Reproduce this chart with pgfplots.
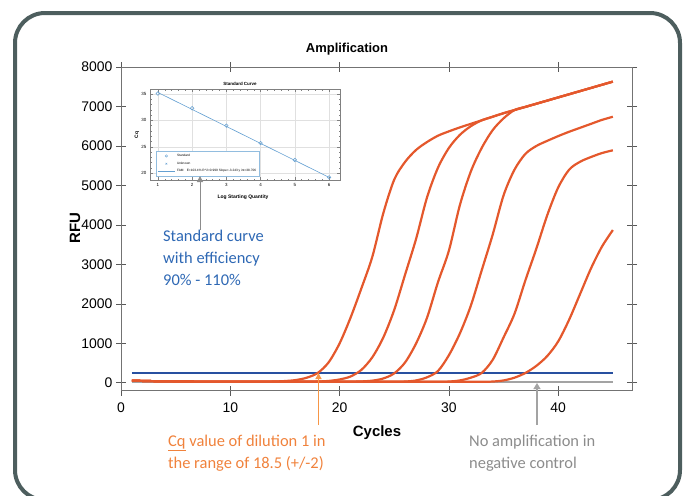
\documentclass[border=0pt]{standalone}
\usepackage{pgfplots}
\usepackage{pgfplotstable}
\pgfplotsset{compat=1.18}
\usepackage{fontspec}
\setmainfont{Liberation Sans}
\newfontfamily\calibri{Carlito}
\usetikzlibrary{arrows.meta}

\definecolor{curve}{RGB}{228,88,44}
\definecolor{thresh}{RGB}{40,80,160}
\definecolor{bluetext}{RGB}{46,104,180}
\definecolor{orangetext}{RGB}{240,130,60}
\definecolor{orangearrow}{RGB}{247,150,70}
\definecolor{graytext}{RGB}{140,140,140}
\definecolor{framecol}{RGB}{77,94,94}
\definecolor{inscol}{RGB}{100,160,210}

% cycle, six dilutions, negative control (RFU)
\pgfplotstableread{
c  s1   s2   s3   s4   s5   s6   nc
1  55   55   55   55   55   55   20
2  48   48   48   48   48   48   20
3  42   42   42   42   42   42   20
4  38   38   38   38   38   38   20
5  35   35   35   35   35   35   20
6  32   32   32   32   32   32   20
7  30   30   30   30   30   30   20
8  28   28   28   28   28   28   20
9  27   27   27   27   27   27   20
10 26   26   26   26   26   26   20
11 25   25   25   25   25   25   20
12 25   25   25   25   25   25   20
13 27   25   25   25   25   25   20
14 32   25   25   25   25   25   20
15 45   25   25   25   25   25   20
16 70   25   25   25   25   25   20
17 130  27   25   25   25   25   20
18 250  32   25   25   25   25   20
19 520  48   25   25   25   25   20
20 1000 85   26   25   25   25   20
21 1650 160  28   25   25   25   20
22 2400 330  35   25   25   25   20
23 3200 650  55   25   25   25   20
24 4300 1150 110  25   25   25   20
25 5150 1850 240  26   25   25   20
26 5600 2750 520  32   25   25   20
27 5900 3650 1000 60   25   25   20
28 6100 4700 1650 140  25   25   20
29 6260 5450 2550 300  26   25   20
30 6370 5950 3350 700  32   25   20
31 6470 6280 4500 1250 60   25   20
32 6560 6500 5350 1950 130  25   20
33 6650 6650 5950 2850 250  26   20
34 6740 6740 6400 3750 580  32   20
35 6830 6830 6700 4750 1150 60   20
36 6910 6910 6910 5400 1750 130  20
37 6990 6990 6990 5800 2600 250  20
38 7070 7070 7070 6000 3400 430  20
39 7150 7150 7150 6130 4250 680  20
40 7230 7230 7230 6250 4950 1050 20
41 7310 7310 7310 6360 5400 1600 20
42 7390 7390 7390 6460 5600 2250 20
43 7470 7470 7470 6560 5720 2900 20
44 7550 7550 7550 6660 5820 3450 20
45 7630 7630 7630 6740 5890 3870 20
}\amp

\begin{document}
\begin{tikzpicture}
\path[use as bounding box] (0,0) rectangle (688bp,-496bp);
\begin{scope}
\clip (0,0) rectangle (688bp,-496bp);
\draw[framecol, line width=4bp, rounded corners=30bp] (15bp,-13bp) rectangle (680bp,-500bp);
\end{scope}

\begin{axis}[
  at={(121bp,-390.7bp)}, anchor=south west,
  scale only axis, width=511bp, height=323.7bp,
  xmin=0, xmax=46.75, ymin=-200, ymax=8000,
  xtick={0,10,20,30,40}, ytick={0,1000,...,8000},
  tick align=center, major tick length=10bp,
  axis line style={black!55, line width=0.8bp},
  tick style={black!65, line width=0.7bp},
  ticklabel style={font=\fontsize{14}{16}\selectfont},
  xticklabel style={yshift=-4bp},
  /pgf/number format/assume math mode=true,
  /pgf/number format/1000 sep={},
  scaled y ticks=false,
  clip=false,
]
\addplot[graytext!80, line width=1.5bp] table[x=c, y=nc] {\amp};
\addplot[thresh, line width=1.6bp] coordinates {(1,250) (45,250)};
\addplot[curve, line width=2.2bp, smooth] table[x=c, y=s6] {\amp};
\addplot[curve, line width=2.2bp, smooth] table[x=c, y=s5] {\amp};
\addplot[curve, line width=2.2bp, smooth] table[x=c, y=s4] {\amp};
\addplot[curve, line width=2.2bp, smooth] table[x=c, y=s3] {\amp};
\addplot[curve, line width=2.2bp, smooth] table[x=c, y=s2] {\amp};
\addplot[curve, line width=2.2bp, smooth] table[x=c, y=s1] {\amp};
\end{axis}

\node[font=\fontsize{13}{15}\selectfont\bfseries] at (347bp,-49bp) {Amplification};
\node[font=\fontsize{15}{17}\selectfont\bfseries] at (377bp,-433bp) {Cycles};
\node[font=\fontsize{15}{17}\selectfont\bfseries, rotate=90] at (75bp,-228bp) {RFU};

\begin{axis}[
  at={(150bp,-180bp)}, anchor=south west,
  scale only axis, width=190bp, height=91bp,
  xmin=0.77, xmax=6.32, ymin=18.7, ymax=35.95,
  xtick={1,...,6}, ytick={20,25,30,35},
  minor x tick num=4, minor y tick num=4,
  major tick length=3bp, minor tick length=1.5bp,
  grid=major, grid style={black!12, line width=0.4bp},
  axis line style={black!50, line width=0.5bp},
  tick style={black!50, line width=0.4bp},
  ticklabel style={font=\fontsize{4.5}{5}\selectfont},
  /pgf/number format/assume math mode=true,
  legend style={at={(axis cs:0.95,19.3)}, anchor=south west, font=\fontsize{3.2}{3.8}\selectfont,
    draw=inscol!70, line width=0.4bp, inner sep=1.2bp, row sep=0bp},
  legend cell align=left,
]
\addlegendimage{only marks, mark=o, mark size=1.2bp, inscol}
\addlegendentry{Standard}
\addlegendimage{only marks, mark=x, mark size=1.2bp, inscol}
\addlegendentry{Unknown}
\addlegendimage{inscol, line width=0.5bp}
\addlegendentry{FAM\quad E=103.4\% R\textasciicircum 2=0.999 Slope=-3.243 y int=38.706}
\addplot[inscol, line width=0.6bp, forget plot] coordinates {(1,35.3) (6,19.2)};
\addplot[only marks, mark=o, mark size=1.8bp, inscol, mark options={line width=0.5bp}, forget plot]
  coordinates {(1,35.1) (2,32.3) (3,29.0) (4,25.7) (5,22.5) (6,19.2)};
\end{axis}

\node[font=\fontsize{4.5}{5}\selectfont\bfseries] at (240bp,-84bp) {Standard Curve};
\node[font=\fontsize{5}{6}\selectfont\bfseries] at (243bp,-197bp) {Log Starting Quantity};
\node[font=\fontsize{5}{6}\selectfont\bfseries, rotate=90] at (137bp,-135bp) {Cq};

% annotation arrows
\draw[graytext, line width=1bp, -{Triangle[width=6bp,length=6bp]}] (200bp,-230bp) -- (200bp,-176bp);
\draw[orangearrow, line width=1.2bp, -{Triangle[width=6bp,length=6bp]}] (318.5bp,-425bp) -- (318.5bp,-373bp);
\draw[graytext!80, line width=1.2bp, -{Triangle[width=7bp,length=6bp]}] (537bp,-425bp) -- (537bp,-383bp);

% annotation texts
\node[anchor=north west, align=left, text=bluetext, font=\calibri\fontsize{16.5}{22}\selectfont, inner sep=0pt]
  at (163bp,-230bp) {Standard curve\\with efficiency\\90\% - 110\%};
\node[anchor=north west, align=left, text=orangetext, font=\calibri\fontsize{16.5}{22}\selectfont, inner sep=0pt]
  at (168bp,-435bp) {\underline{Cq} value of dilution 1 in\\the range of 18.5 (+/-2)};
\node[anchor=north west, align=left, text=graytext, font=\calibri\fontsize{16.5}{22}\selectfont, inner sep=0pt]
  at (469bp,-435bp) {No amplification in\\negative control};
\end{tikzpicture}
\end{document}
